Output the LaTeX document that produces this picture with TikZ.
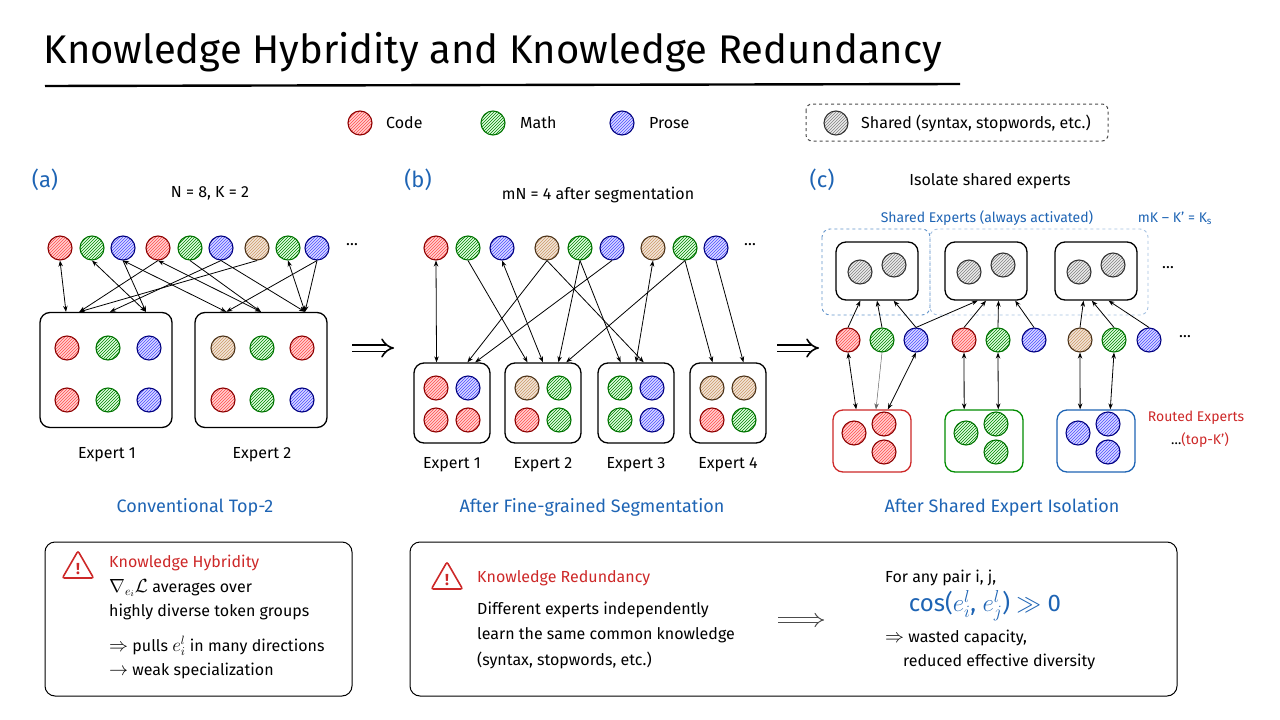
\documentclass[tikz,border=0pt]{standalone}
\usepackage{fontspec}
\setmainfont{Fira Sans}
\usetikzlibrary{patterns,calc,shapes.geometric,arrows.meta}
\definecolor{tblue}{RGB}{30,100,180}
\definecolor{tred}{RGB}{205,40,40}
\newcommand{\mth}[2][1.1]{\scalebox{#1}{$#2$}}
\tikzset{
  tok/.style={circle,minimum size=24pt,inner sep=0pt,line width=1.1pt},
  tokR/.style={tok,draw=red!55!black,preaction={fill=red!18},pattern=north east lines,pattern color=red!70},
  tokG/.style={tok,draw=green!45!black,preaction={fill=green!12},pattern=north east lines,pattern color=green!50!black},
  tokB/.style={tok,draw=blue!50!black,preaction={fill=blue!15},pattern=north east lines,pattern color=blue!70},
  tokM/.style={tok,draw=brown!40!black,preaction={fill=brown!20},pattern=north east lines,pattern color=brown!80},
  tokS/.style={tok,draw=black!80,preaction={fill=gray!15},pattern=north east lines,pattern color=gray},
  ebox/.style={draw,rounded corners=10pt,line width=1.3pt},
  lnk/.style={-{Stealth[length=6pt]},line width=0.8pt},
  blnk/.style={{Stealth[length=6pt]}-{Stealth[length=6pt]},line width=0.8pt},
  bigarr/.style={double,double distance=5pt,line width=1.6pt,-{Implies[length=9pt]}},
  txt/.style={font=\fontsize{16}{19}\selectfont,inner sep=1pt},
  ptitle/.style={txt,text=tblue,font=\fontsize{18}{20}\selectfont},
}
\begin{document}
\begin{tikzpicture}[x=1pt,y=-1pt]
\useasboundingbox (0,0) rectangle (1280,720);
% title
\node[anchor=west,font=\fontsize{40}{44}\selectfont] (title) at (40,52) {Knowledge Hybridity and Knowledge Redundancy};
\draw[line width=2.4pt] (45,86) -- (960,84);
% legend
\node[tokR] (lc) at (360,123) {};
\node[txt,anchor=west] at (385,123) {Code};
\node[tokG] (lm) at (493,123) {};
\node[txt,anchor=west] at (519,123) {Math};
\node[tokB] (lp) at (622,123) {};
\node[txt,anchor=west] at (648,123) {Prose};
\draw[dashed,rounded corners=6pt,line width=1pt,black!70] (806,104) rectangle (1108,141);
\node[tokS] (ls) at (836,123) {};
\node[txt,anchor=west] at (860,123) {Shared (syntax, stopwords, etc.)};

% ---- panel (a)
\node[ptitle,font=\fontsize{22}{24}\selectfont] at (45,180) {(a)};
\node[txt] at (210,193) {N = 8, K = 2};
\foreach \i/\x/\s in {1/60/R,2/92/G,3/123/B,4/158/R,5/190/G,6/221/B,7/257/M,8/288/G,9/317/B}
  \node[tok\s] (a\i) at (\x,248) {};
\node[txt] at (352,245) {\dots};
\node[ebox,minimum width=132pt,minimum height=115pt] (ea1) at (106,370) {};
\node[ebox,minimum width=132pt,minimum height=115pt] (ea2) at (261,370) {};
\foreach \x/\y/\s in {67/348/R,108/348/G,149/348/B,67/400/R,108/400/G,149/400/B,
  223/348/M,262/348/G,302/348/R,223/400/R,262/400/G,302/400/B}
  \node[tok\s] at (\x,\y) {};
\foreach \t/\b/\f/\k in {1/1/.2/blnk,2/1/.8/blnk,3/1/.8/lnk,4/1/.3/lnk,4/2/.5/blnk,5/2/.5/lnk,
  6/1/.53/lnk,7/1/.3/lnk,8/2/.83/blnk,9/2/.83/lnk,9/2/.24/lnk,6/2/.83/lnk,3/2/.24/blnk}
  \draw[\k] (a\t.south) -- ($(ea\b.north west)!\f!(ea\b.north east)$);
\node[txt] at (107,455) {Expert 1};
\node[txt] at (262,455) {Expert 2};
\node[ptitle] at (195,507) {Conventional Top-2};
\coordinate (aa1) at (352,348);
\coordinate (aa2) at (394,348);
\draw[bigarr] (aa1) -- (aa2);

% ---- panel (b)
\node[ptitle,font=\fontsize{22}{24}\selectfont] at (418,180) {(b)};
\node[txt] at (598,195) {mN = 4 after segmentation};
\foreach \i/\x/\s in {1/436/R,2/468/G,3/502/B,4/547/M,5/580/G,6/612/B,7/653/M,8/685/G,9/716/B}
  \node[tok\s] (b\i) at (\x,248) {};
\node[txt] at (750,245) {\dots};
\foreach \j/\x/\p/\q/\r/\s in {1/452/R/B/R/R,2/543/M/G/R/G,3/636/G/B/G/B,4/728/M/M/R/G}{
  \node[ebox,minimum width=76pt,minimum height=80pt] (eb\j) at (\x,403) {};
  \node[tok\p] at (\x-16,388) {};
  \node[tok\q] at (\x+16,388) {};
  \node[tok\r] at (\x-16,420) {};
  \node[tok\s] at (\x+16,420) {};
  \node[txt] at (\x,465) {Expert \j};
}
\foreach \t/\b/\f/\k in {1/1/.3/blnk,2/2/.3/lnk,3/2/.5/blnk,4/1/.7/lnk,5/2/.7/lnk,5/3/.3/lnk,
  6/1/.8/lnk,7/3/.5/blnk,8/4/.3/lnk,8/2/.8/lnk,9/4/.7/lnk,4/3/.6/lnk}
  \draw[\k] (b\t.south) -- ($(eb\b.north west)!\f!(eb\b.north east)$);
\node[ptitle] at (592,507) {After Fine-grained Segmentation};
\coordinate (ab1) at (777,348);
\coordinate (ab2) at (819,348);
\draw[bigarr] (ab1) -- (ab2);

% ---- panel (c)
\node[ptitle,font=\fontsize{22}{24}\selectfont] at (822,180) {(c)};
\node[txt] at (990,181) {Isolate shared experts};
\node[txt,text=tblue,font=\fontsize{14}{16}\selectfont] at (987,218) {Shared Experts (always activated)};
\node[txt,text=tblue,font=\fontsize{14}{16}\selectfont] at (1175,218) {mK -- K’ = K\textsubscript{s}};
\draw[dashed,tblue!70,rounded corners=8pt,line width=0.9pt] (822,229) rectangle (930,315);
\draw[dashed,tblue!40,rounded corners=8pt,line width=0.9pt] (930,229) rectangle (1148,315);
\foreach \j/\x in {1/877,2/986,3/1096}{
  \node[ebox,minimum width=82pt,minimum height=58pt] (s\j) at (\x,271) {};
  \node[tokS] at (\x-17,272) {};
  \node[tokS] at (\x+17,265) {};
}
\node[txt] at (1168,268) {\dots};
\foreach \i/\x/\s in {1/848/R,2/882/G,3/916/B,4/964/R,5/998/G,6/1034/B,7/1080/M,8/1114/G,9/1149/B}
  \node[tok\s] (c\i) at (\x,340) {};
\node[txt] at (1185,337) {\dots};
\foreach \j/\x/\s/\c in {1/872/R/tred,2/984/G/green!55!black,3/1096/B/tblue}{
  \node[ebox,draw=\c,minimum width=78pt,minimum height=62pt] (r\j) at (\x,441) {};
  \node[tok\s] at (\x-18,433) {};
  \node[tok\s] at (\x+12,424) {};
  \node[tok\s] at (\x+12,452) {};
}
\foreach \t/\b/\f in {1/1/.3,2/1/.5,3/1/.7,3/2/.4,4/2/.5,5/2/.65,6/2/.85,7/3/.35,8/3/.45,9/3/.65}
  \draw[lnk] (c\t.north) -- ($(s\b.south west)!\f!(s\b.south east)$);
\foreach \t/\b/\f in {1/1/.3,3/1/.7,4/2/.25,5/2/.68,7/3/.3,8/3/.68}
  \draw[blnk] (c\t.south) -- ($(r\b.north west)!\f!(r\b.north east)$);
\draw[lnk,black!60,line width=0.5pt] (c2.south) -- ($(r1.north west)!0.55!(r1.north east)$);
\node[txt,text=tred,font=\fontsize{14}{16}\selectfont] at (1196,418) {Routed Experts};
\node[txt,text=tred,font=\fontsize{14}{16}\selectfont] at (1200,440) {\textcolor{black}{\dots}(top-K’)};
\node[ptitle] at (1002,507) {After Shared Expert Isolation};

% ---- bottom boxes
\draw[rounded corners=10pt,line width=1pt] (45,542) rectangle (352,696);
\node[regular polygon,regular polygon sides=3,draw=tred,line width=1.6pt,minimum size=36pt,inner sep=0pt,rounded corners=2pt] (wa) at (78,569) {};
\node[text=tred,font=\bfseries\fontsize{16}{16}\selectfont] at (wa.center) {!};
\node[txt,anchor=west,text=tred] at (108,563) {Knowledge Hybridity};
\node[txt,anchor=west] at (108,588) {\mth{\nabla_{e_i}\mathcal{L}} averages over};
\node[txt,anchor=west] at (108,612) {highly diverse token groups};
\node[txt,anchor=west] at (108,646) {\mth{\Rightarrow} pulls \mth{e_i^l} in many directions};
\node[txt,anchor=west] at (108,671) {\mth{\rightarrow} weak specialization};

\draw[rounded corners=10pt,line width=1pt] (410,542) rectangle (1177,696);
\node[regular polygon,regular polygon sides=3,draw=tred,line width=1.6pt,minimum size=36pt,inner sep=0pt,rounded corners=2pt] (wb) at (447,580) {};
\node[text=tred,font=\bfseries\fontsize{16}{16}\selectfont] at (wb.center) {!};
\node[txt,anchor=west,text=tred] at (476,578) {Knowledge Redundancy};
\node[txt,anchor=west] at (476,610) {Different experts independently};
\node[txt,anchor=west] at (476,635) {learn the same common knowledge};
\node[txt,anchor=west] at (476,660) {(syntax, stopwords, etc.)};
\coordinate (ac1) at (778,620);
\coordinate (ac2) at (824,620);
\draw[bigarr,black!70,line width=1pt,double distance=4pt] (ac1) -- (ac2);
\node[txt,anchor=west] at (884,578) {For any pair i, j,};
\node[text=tblue,font=\fontsize{24}{28}\selectfont] at (985,606) {cos(\mth[1]{e_i^l}, \mth[1]{e_j^l}) \mth[1]{\gg} 0};
\node[txt,anchor=west] at (884,638) {\mth{\Rightarrow} wasted capacity,};
\node[txt,anchor=west] at (902,662) {reduced effective diversity};
\end{tikzpicture}
\end{document}
